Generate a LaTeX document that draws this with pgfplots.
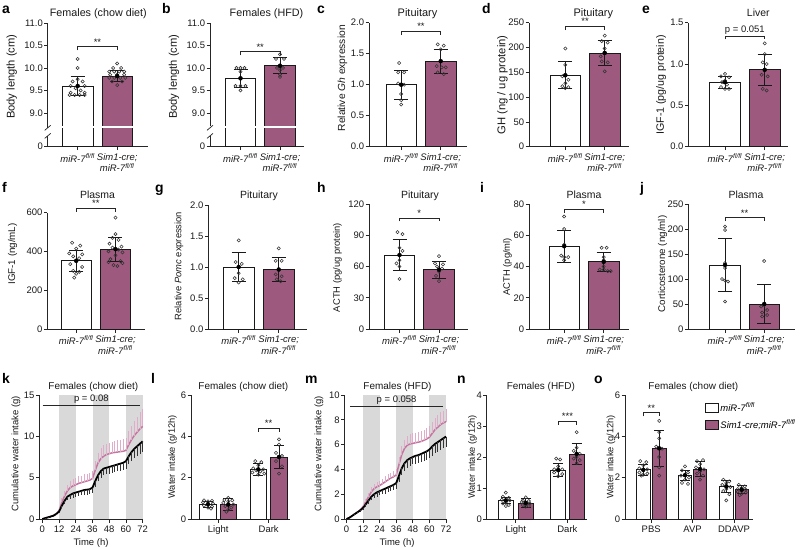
\documentclass[border=0pt]{standalone}
\usepackage{fontspec}
\setmainfont{Liberation Sans}
\usepackage{pgfplots}
\pgfplotsset{compat=1.18}

\definecolor{pbar}{RGB}{158,90,126}
\definecolor{pline}{RGB}{196,118,160}
\definecolor{perr}{RGB}{224,172,202}
\definecolor{band}{RGB}{217,217,217}

\newcommand{\tkf}{\fontsize{9.5}{11.4}\selectfont}
\newcommand{\ltf}{\fontsize{14}{16}\selectfont\bfseries}
\newcommand{\mir}{\textit{miR-7}\textsuperscript{\textit{fl/fl}}}

\def\yoff{0}
\def\bw{30.5}
\def\capw{7bp}

\pgfplotsset{
  bp/.style={scale only axis, anchor=south west, clip=false,
    axis x line*=bottom, axis y line*=left,
    axis line style={-, line width=0.7bp, black!85},
    tick align=outside, major tick length=3.5bp,
    tick style={line width=0.7bp, black!85},
    ticklabel style={font=\tkf, text=black!90},
    xticklabel style={align=center},
    yticklabel style={inner xsep=1.2bp},
    /pgf/number format/assume math mode=true,
    scaled y ticks=false, ymin=0},
  wb/.style={ybar, bar shift=0pt, bar width=\bw, fill=white, draw=black!90, line width=0.7bp, forget plot},
  pb/.style={ybar, bar shift=0pt, bar width=\bw, fill=pbar, draw=black!90, line width=0.7bp, forget plot},
  eb/.style={only marks, mark=none, forget plot,
    error bars/.cd, y dir=both, y explicit,
    error bar style={solid, draw=black!90, line width=0.8bp},
    error mark options={rotate=90, mark size=\capw, draw=black!90, line width=0.8bp}},
  pts/.style={only marks, mark=o, mark size=1.6bp, mark options={line width=0.55bp, draw=black!80}, forget plot},
}

% two bars (white, purple) with mean and SD
\newcommand{\bars}[6]{%
  \addplot[wb] table[row sep=\\, x=x, y expr=\thisrow{v}-\yoff] {x v\\ #1 #2\\};
  \addplot[pb] table[row sep=\\, x=x, y expr=\thisrow{v}-\yoff] {x v\\ #4 #5\\};
}
\newcommand{\errs}[6]{%
  \addplot[eb] table[row sep=\\, x=x, y expr=\thisrow{v}-\yoff, y error=e] {x v e\\ #1 #2 #3\\ #4 #5 #6\\};
}
\newcommand{\pts}[2]{%
  \addplot[pts] table[row sep=\\, x expr=\thisrow{d}+#1, y expr=\thisrow{v}-\yoff] {d v\\ #2};
}
\newcommand{\brk}[4]{%
  \draw[line width=0.7bp, black!85] ([yshift=-3.5bp]axis cs:#1,#3) -- (axis cs:#1,#3) -- (axis cs:#2,#3) -- ([yshift=-3.5bp]axis cs:#2,#3);
  \path (axis cs:#1,#3) -- node[above, inner sep=1.5bp, font=\tkf, text=black!90] {#4} (axis cs:#2,#3);
}
\newcommand{\lett}[3]{\node[anchor=base west, inner sep=0] at (#1bp,-#2bp) {\ltf #3};}
% title: x, baseline y, size, text
\newcommand{\ttl}[4]{\node[anchor=base, inner sep=0, text=black!90] at (#1bp,-#2bp) {\fontsize{#3}{12}\selectfont #4};}
% y label: x, y, size, text
\newcommand{\ylab}[4]{\node[rotate=90, inner sep=0, text=black!90] at (#1bp,-#2bp) {\fontsize{#3}{12}\selectfont #4};}

\begin{document}
\begin{tikzpicture}
\useasboundingbox (0,0) rectangle (800bp,-548bp);

% ---------------- a ----------------
\def\yoff{8.25}
\begin{axis}[bp, at={(47.7bp,-146.7bp)}, width=100.3bp, height=123.7bp,
  xmin=47.7, xmax=148, ymax=2.75,
  ytick={0,0.75,1.25,1.75,2.25,2.75}, yticklabels={0,9.0,9.5,10.0,10.5,11.0},
  xtick={77.7,117.2}, xticklabels={\mir,{\textit{Sim1-cre;}\\\mir}}]
\bars{77.7}{9.6}{0.22}{117.2}{9.82}{0.12}
\fill[white] (axis cs:47.7,0.41) rectangle (axis cs:148,0.45);
\fill[white] ([xshift=-2bp]axis cs:47.7,0.24) rectangle ([xshift=2bp]axis cs:47.7,0.42);
\draw[line width=0.7bp, black!85] ([xshift=-3bp,yshift=-2.5bp]axis cs:47.7,0.42) -- ([xshift=3bp,yshift=2.5bp]axis cs:47.7,0.42);
\draw[line width=0.7bp, black!85] ([xshift=-3bp,yshift=-2.5bp]axis cs:47.7,0.24) -- ([xshift=3bp,yshift=2.5bp]axis cs:47.7,0.24);
\pts{77.7}{0 10.2\\ 0 10.0\\ 0 9.75\\ -5 9.7\\ 5 9.7\\ -7 9.6\\ 7 9.6\\ -2 9.55\\ 3 9.5\\ -7 9.45\\ 7 9.45\\ -8 9.4\\ -3 9.4\\ 2 9.4\\ 7 9.4\\}
\pts{117.2}{0 10.1\\ -4 10.0\\ 4 10.0\\ -8 9.92\\ -3 9.92\\ 2 9.92\\ 7 9.92\\ -7 9.85\\ 0 9.85\\ 7 9.85\\ -8 9.78\\ -3 9.78\\ 3 9.78\\ 8 9.78\\ -5 9.7\\ 5 9.7\\ 0 9.62\\}
\errs{77.7}{9.6}{0.22}{117.2}{9.82}{0.12}
\brk{77.7}{117.2}{2.22}{**}
\end{axis}

% ---------------- b ----------------
\begin{axis}[bp, at={(210bp,-146.7bp)}, width=94bp, height=123.7bp,
  xmin=210, xmax=304, ymax=2.75,
  ytick={0,0.75,1.25,1.75,2.25,2.75}, yticklabels={0,9.0,9.5,10.0,10.5,11.0},
  xtick={240.5,280}, xticklabels={\mir,{\textit{Sim1-cre;}\\\mir}}]
\bars{240.5}{9.77}{0.2}{280}{10.05}{0.18}
\fill[white] (axis cs:210,0.41) rectangle (axis cs:304,0.45);
\fill[white] ([xshift=-2bp]axis cs:210,0.24) rectangle ([xshift=2bp]axis cs:210,0.42);
\draw[line width=0.7bp, black!85] ([xshift=-3bp,yshift=-2.5bp]axis cs:210,0.42) -- ([xshift=3bp,yshift=2.5bp]axis cs:210,0.42);
\draw[line width=0.7bp, black!85] ([xshift=-3bp,yshift=-2.5bp]axis cs:210,0.24) -- ([xshift=3bp,yshift=2.5bp]axis cs:210,0.24);
\pts{240.5}{0 10.0\\ -4 10.0\\ 4 10.0\\ 0 9.92\\ 0 9.78\\ -5 9.6\\ 0 9.6\\ 5 9.6\\ 0 9.5\\}
\pts{280}{0 10.3\\ -4 10.2\\ 4 10.2\\ -3 10.0\\ 3 10.0\\ 0 9.95\\ 0 9.85\\ 0 9.8\\}
\errs{240.5}{9.77}{0.2}{280}{10.05}{0.18}
\brk{240.5}{280}{2.11}{**}
\end{axis}
\def\yoff{0}

% ---------------- c ----------------
\begin{axis}[bp, at={(369bp,-146.7bp)}, width=97.7bp, height=124bp,
  xmin=369, xmax=466.7, ymax=2,
  ytick={0,0.5,1,1.5,2}, yticklabels={0.0,0.5,1.0,1.5,2.0},
  xtick={401.2,440.7}, xticklabels={\mir,{\textit{Sim1-cre;}\\\mir}}]
\bars{401.2}{1.0}{0.23}{440.7}{1.38}{0.19}
\pts{401.2}{-2 1.35\\ -3 1.2\\ 3 1.2\\ -3 1.02\\ 3 1.0\\ 0 0.85\\ 0 0.75\\ 0 0.68\\}
\pts{440.7}{-3 1.65\\ 3 1.63\\ 0 1.57\\ -4 1.3\\ 1 1.28\\ 5 1.28\\ -3 1.2\\ 3 1.17\\}
\errs{401.2}{1.0}{0.23}{440.7}{1.38}{0.19}
\brk{401.2}{440.7}{1.855}{**}
\end{axis}

% ---------------- d ----------------
\begin{axis}[bp, at={(529bp,-146.7bp)}, width=100bp, height=124bp,
  xmin=529, xmax=629, ymax=250, ytick={0,50,...,250},
  xtick={565.3,604.7}, xticklabels={\mir,{\textit{Sim1-cre;}\\\mir}}]
\bars{565.3}{144}{27}{604.7}{189}{24.5}
\pts{565.3}{0 198\\ 0 165\\ 0 145\\ -3 142\\ 3 135\\ 0 128\\ -3 122\\ 3 120\\ 0 118\\}
\pts{604.7}{0 224\\ -3 213\\ 3 210\\ 0 198\\ 0 190\\ -4 182\\ -3 172\\ 3 170\\ 0 152\\}
\errs{565.3}{144}{27}{604.7}{189}{24.5}
\brk{565.3}{604.7}{242}{**}
\end{axis}

% ---------------- e ----------------
\begin{axis}[bp, at={(688.3bp,-146.7bp)}, width=99.7bp, height=124bp,
  xmin=688.3, xmax=788, ymax=1.5,
  ytick={0,0.5,1,1.5}, yticklabels={0.0,0.5,1.0,1.5},
  xtick={725,764.7}, xticklabels={\mir,{\textit{Sim1-cre;}\\\mir}}]
\bars{725}{0.78}{0.07}{764.7}{0.93}{0.19}
\pts{725}{0 0.88\\ -4 0.85\\ 4 0.84\\ 0 0.8\\ -3 0.78\\ 2 0.75\\ -4 0.72\\ 0 0.7\\ 4 0.7\\}
\pts{764.7}{0 1.25\\ 0 1.12\\ -2 1.02\\ 2 1.0\\ -3 0.87\\ 3 0.85\\ -2 0.7\\ 2 0.68\\}
\errs{725}{0.78}{0.07}{764.7}{0.93}{0.19}
\brk{725}{764.7}{1.34}{p = 0.051}
\end{axis}

% ---------------- f ----------------
\begin{axis}[bp, at={(47.3bp,-329bp)}, width=98bp, height=116.3bp,
  xmin=47.3, xmax=145.3, ymax=600, ytick={0,200,400,600},
  xtick={76.2,115.5}, xticklabels={\mir,{\textit{Sim1-cre;}\\\mir}}]
\bars{76.2}{352}{53}{115.5}{412}{62}
\pts{76.2}{-4 445\\ 4 430\\ 0 415\\ -7 390\\ 6 385\\ -3 375\\ 3 365\\ 0 350\\ -6 335\\ 6 320\\ -3 300\\ 3 295\\ 0 285\\ -2 265\\}
\pts{115.5}{0 575\\ 0 490\\ -3 470\\ 3 460\\ -6 440\\ 6 425\\ -3 420\\ 3 410\\ -7 400\\ 7 395\\ 0 380\\ -5 360\\ 5 350\\ -7 345\\ 7 340\\ -2 330\\ 2 325\\}
\errs{76.2}{352}{53}{115.5}{412}{62}
\brk{76.2}{115.5}{622}{**}
\end{axis}

% ---------------- g ----------------
\begin{axis}[bp, at={(208.3bp,-329bp)}, width=98.4bp, height=124bp,
  xmin=208.3, xmax=306.7, ymax=2,
  ytick={0,0.5,1,1.5,2}, yticklabels={0.0,0.5,1.0,1.5,2.0},
  xtick={238.7,278.7}, xticklabels={\mir,{\textit{Sim1-cre;}\\\mir}}]
\bars{238.7}{1.0}{0.23}{278.7}{0.96}{0.19}
\pts{238.7}{0 1.43\\ -3 1.08\\ 3 1.05\\ 0 1.0\\ 0 0.9\\ -4 0.82\\ 4 0.8\\ 0 0.75\\}
\pts{278.7}{0 1.3\\ -3 1.1\\ 3 1.1\\ 0 0.95\\ -3 0.88\\ 3 0.85\\ -2 0.8\\ 2 0.77\\}
\errs{238.7}{1.0}{0.23}{278.7}{0.96}{0.19}
\end{axis}

% ---------------- h ----------------
\begin{axis}[bp, at={(369bp,-329bp)}, width=98.7bp, height=125bp,
  xmin=369, xmax=467.7, ymax=120, ytick={0,30,...,120},
  xtick={399.5,439}, xticklabels={\mir,{\textit{Sim1-cre;}\\\mir}}]
\bars{399.5}{71}{15}{439}{57}{8}
\pts{399.5}{-2 93\\ 3 91\\ 0 78\\ 3 75\\ 0 66\\ -3 63\\ 0 60\\ 0 48\\}
\pts{439}{0 70\\ -4 63\\ 4 62\\ -2 60\\ 3 58\\ 0 55\\ -3 51\\ 0 46\\}
\errs{399.5}{71}{15}{439}{57}{8}
\brk{399.5}{439}{106.7}{*}
\end{axis}

% ---------------- i ----------------
\begin{axis}[bp, at={(529bp,-329bp)}, width=100.3bp, height=125bp,
  xmin=529, xmax=629.3, ymax=80, ytick={0,20,...,80},
  xtick={564.2,603.7}, xticklabels={\mir,{\textit{Sim1-cre;}\\\mir}}]
\bars{564.2}{53}{10.3}{603.7}{43}{6.3}
\pts{564.2}{0 72\\ 0 64\\ 0 54\\ -3 47\\ 0 46\\ 4 46\\ 0 44\\}
\pts{603.7}{-2 52\\ 3 52\\ 0 46\\ 0 44\\ 0 40\\ -4 38\\ 0 38\\ 4 37\\ 7 37\\}
\errs{564.2}{53}{10.3}{603.7}{43}{6.3}
\brk{564.2}{603.7}{76.7}{*}
\end{axis}

% ---------------- j ----------------
\begin{axis}[bp, at={(688.3bp,-329bp)}, width=106.7bp, height=125bp,
  xmin=688.3, xmax=795, ymax=250, ytick={0,50,...,250},
  xtick={725,764.2}, xticklabels={\mir,{\textit{Sim1-cre;}\\\mir}}]
\bars{725}{128}{53.5}{764.2}{50}{39}
\pts{725}{0 205\\ 0 198\\ 0 132\\ 0 122\\ -3 100\\ 0 97\\ 3 95\\ 0 55\\}
\pts{764.2}{0 136\\ 0 48\\ -3 45\\ 3 38\\ -2 33\\ 3 28\\ -2 25\\}
\errs{725}{128}{53.5}{764.2}{50}{39}
\brk{725}{764.2}{222.6}{**}
\end{axis}

% ---------------- k ----------------
\begin{axis}[bp, at={(39.3bp,-519bp)}, width=103.4bp, height=124bp,
  xmin=-2.15, xmax=72, ymax=15, ytick={0,5,10,15}, xtick={0,12,...,72}]
\fill[band] (axis cs:12,0) rectangle (axis cs:24,15);
\fill[band] (axis cs:36,0) rectangle (axis cs:48,15);
\fill[band] (axis cs:60,0) rectangle (axis cs:72,15);
\draw[line width=0.7bp, black!85] (axis cs:0.3,13.8) -- node[above, inner sep=1.5bp, font=\tkf, text=black!90] {p = 0.08} (axis cs:70,13.8);
\addplot[color=pline, line width=1.5bp, mark=none, forget plot,
  error bars/.cd, y dir=plus, y explicit, error bar style={solid, draw=perr, line width=0.7bp}, error mark=none]
  table[row sep=\\, x=t, y=m, y error=s] {t m s\\
0 0 0\\ 2 0.1 0.03\\ 4 0.2 0.05\\ 6 0.3 0.08\\ 8 0.45 0.1\\ 10 0.65 0.15\\ 12 1.0 0.3\\ 14 2.0 0.5\\ 16 2.8 0.6\\ 18 3.4 0.7\\ 20 3.8 0.75\\ 22 4.0 0.8\\ 24 4.15 0.8\\
26 4.3 0.85\\ 28 4.4 0.85\\ 30 4.5 0.9\\ 32 4.6 0.9\\ 34 4.7 0.9\\ 36 4.9 0.95\\ 38 5.9 1.1\\ 40 6.8 1.2\\ 42 7.3 1.3\\ 44 7.6 1.3\\ 46 7.8 1.3\\ 48 7.9 1.3\\
50 8.0 1.35\\ 52 8.05 1.35\\ 54 8.1 1.4\\ 56 8.15 1.4\\ 58 8.2 1.45\\ 60 8.3 1.5\\ 62 9.0 1.6\\ 64 9.6 1.7\\ 66 10.1 1.8\\ 68 10.5 1.9\\ 70 10.9 2.0\\ 72 11.2 2.1\\};
\addplot[color=black, line width=1.8bp, mark=none, forget plot,
  error bars/.cd, y dir=minus, y explicit, error bar style={solid, draw=black!80, line width=0.7bp}, error mark=none]
  table[row sep=\\, x=t, y=m, y error=s] {t m s\\
0 0 0\\ 2 0.1 0.03\\ 4 0.2 0.05\\ 6 0.3 0.07\\ 8 0.4 0.1\\ 10 0.6 0.12\\ 12 0.9 0.2\\ 14 1.6 0.3\\ 16 2.2 0.4\\ 18 2.7 0.45\\ 20 2.9 0.5\\ 22 3.1 0.5\\ 24 3.2 0.5\\
26 3.3 0.55\\ 28 3.4 0.55\\ 30 3.5 0.55\\ 32 3.55 0.6\\ 34 3.6 0.6\\ 36 3.8 0.6\\ 38 4.6 0.7\\ 40 5.3 0.75\\ 42 5.8 0.8\\ 44 6.1 0.8\\ 46 6.2 0.8\\ 48 6.3 0.8\\
50 6.4 0.8\\ 52 6.5 0.8\\ 54 6.6 0.85\\ 56 6.7 0.85\\ 58 6.8 0.9\\ 60 7.0 0.9\\ 62 7.6 1.0\\ 64 8.1 1.05\\ 66 8.5 1.1\\ 68 8.8 1.15\\ 70 9.1 1.2\\ 72 9.4 1.25\\};
\end{axis}

% ---------------- l ----------------
\def\bw{16.7}\def\capw{5bp}
\begin{axis}[bp, at={(191bp,-519bp)}, width=99bp, height=124bp,
  xmin=191, xmax=290, ymax=6, ytick={0,2,4,6},
  xtick={218.2,268.7}, xticklabels={Light,Dark}]
\bars{208}{0.72}{0.15}{228.3}{0.70}{0.3}
\bars{258.3}{2.4}{0.3}{279}{3.0}{0.55}
\pts{208}{-4 0.9\\ 4 0.88\\ 0 0.85\\ -5 0.8\\ 5 0.75\\ 0 0.7\\ -4 0.65\\ 4 0.6\\ 0 0.55\\ 3 0.5\\}
\pts{228.3}{0 1.02\\ -4 0.92\\ 4 0.9\\ 0 0.85\\ -5 0.78\\ 5 0.7\\ -3 0.62\\ 3 0.55\\ 0 0.45\\ -2 0.35\\}
\pts{258.3}{-3 2.8\\ 3 2.75\\ 0 2.6\\ -5 2.45\\ 5 2.4\\ -2 2.35\\ 2 2.3\\ -6 2.25\\ 6 2.2\\ 0 2.15\\}
\pts{279}{0 3.85\\ 0 3.6\\ -3 3.2\\ 3 3.05\\ 0 3.0\\ -3 2.8\\ 3 2.55\\ 0 2.2\\}
\errs{208}{0.72}{0.15}{228.3}{0.70}{0.3}
\errs{258.3}{2.4}{0.3}{279}{3.0}{0.55}
\brk{258.3}{279}{4.39}{**}
\end{axis}

% ---------------- m ----------------
\begin{axis}[bp, at={(344.5bp,-519bp)}, width=101.5bp, height=124bp,
  xmin=-1.44, xmax=72, ymax=10, ytick={0,2,...,10}, xtick={0,12,...,72}]
\fill[band] (axis cs:12,0) rectangle (axis cs:24,10);
\fill[band] (axis cs:36,0) rectangle (axis cs:48,10);
\fill[band] (axis cs:60,0) rectangle (axis cs:72,10);
\draw[line width=0.7bp, black!85] (axis cs:2.5,9.1) -- node[above, inner sep=1.5bp, font=\tkf, text=black!90] {p = 0.058} (axis cs:70,9.1);
\addplot[color=pline, line width=1.5bp, mark=none, forget plot,
  error bars/.cd, y dir=plus, y explicit, error bar style={solid, draw=perr, line width=0.7bp}, error mark=none]
  table[row sep=\\, x=t, y=m, y error=s] {t m s\\
0 0 0\\ 2 0.1 0.03\\ 4 0.25 0.05\\ 6 0.4 0.08\\ 8 0.55 0.1\\ 10 0.75 0.12\\ 12 1.0 0.2\\ 14 1.4 0.25\\ 16 1.8 0.3\\ 18 2.2 0.35\\ 20 2.45 0.35\\ 22 2.6 0.4\\ 24 2.7 0.4\\
26 2.85 0.4\\ 28 3.0 0.45\\ 30 3.15 0.45\\ 32 3.3 0.45\\ 34 3.4 0.5\\ 36 3.55 0.5\\ 38 4.4 0.6\\ 40 5.2 0.65\\ 42 5.7 0.7\\ 44 5.95 0.75\\ 46 6.05 0.8\\ 48 6.1 0.8\\
50 6.15 0.8\\ 52 6.2 0.8\\ 54 6.25 0.85\\ 56 6.35 0.85\\ 58 6.45 0.85\\ 60 6.6 0.9\\ 62 6.9 0.9\\ 64 7.2 0.95\\ 66 7.4 0.95\\ 68 7.6 1.0\\ 70 7.75 1.0\\ 72 7.85 1.0\\};
\addplot[color=black, line width=1.8bp, mark=none, forget plot,
  error bars/.cd, y dir=minus, y explicit, error bar style={solid, draw=black!80, line width=0.7bp}, error mark=none]
  table[row sep=\\, x=t, y=m, y error=s] {t m s\\
0 0 0\\ 2 0.1 0.03\\ 4 0.25 0.05\\ 6 0.4 0.08\\ 8 0.55 0.1\\ 10 0.7 0.12\\ 12 0.9 0.15\\ 14 1.2 0.2\\ 16 1.5 0.25\\ 18 1.8 0.3\\ 20 2.0 0.3\\ 22 2.15 0.35\\ 24 2.25 0.35\\
26 2.35 0.35\\ 28 2.45 0.4\\ 30 2.55 0.4\\ 32 2.65 0.4\\ 34 2.75 0.45\\ 36 2.9 0.45\\ 38 3.5 0.5\\ 40 4.1 0.55\\ 42 4.5 0.6\\ 44 4.75 0.6\\ 46 4.9 0.6\\ 48 5.0 0.6\\
50 5.1 0.65\\ 52 5.15 0.65\\ 54 5.25 0.65\\ 56 5.35 0.7\\ 58 5.45 0.7\\ 60 5.6 0.7\\ 62 5.85 0.75\\ 64 6.05 0.75\\ 66 6.2 0.8\\ 68 6.35 0.8\\ 70 6.5 0.8\\ 72 6.65 0.85\\};
\end{axis}

% ---------------- n ----------------
\def\bw{15}
\begin{axis}[bp, at={(486.7bp,-519bp)}, width=100bp, height=124bp,
  xmin=486.7, xmax=586.7, ymax=4, ytick={0,1,2,3,4},
  xtick={515.8,567.4}, xticklabels={Light,Dark}]
\bars{505.8}{0.6}{0.1}{525.8}{0.52}{0.15}
\bars{558.2}{1.58}{0.22}{576.7}{2.1}{0.35}
\pts{505.8}{0 0.85\\ -3 0.72\\ 3 0.68\\ -4 0.62\\ 4 0.6\\ 0 0.55\\ -3 0.5\\ 3 0.45\\ 0 0.42\\}
\pts{525.8}{0 0.7\\ -3 0.6\\ 3 0.58\\ -4 0.55\\ 4 0.5\\ 0 0.48\\ -3 0.45\\ 3 0.42\\ 0 0.4\\}
\pts{558.2}{-2 1.95\\ 2 1.92\\ 0 1.7\\ -4 1.6\\ 4 1.6\\ 0 1.55\\ -4 1.5\\ 4 1.45\\ 0 1.38\\}
\pts{576.7}{0 2.8\\ 0 2.3\\ -3 2.2\\ 3 2.1\\ 0 2.0\\ -3 1.95\\ 3 1.9\\ 0 1.8\\}
\errs{505.8}{0.6}{0.1}{525.8}{0.52}{0.15}
\errs{558.2}{1.58}{0.22}{576.7}{2.1}{0.35}
\brk{558.2}{576.7}{3.14}{***}
\end{axis}

% ---------------- o ----------------
\def\bw{13.5}
\begin{axis}[bp, at={(625bp,-519bp)}, width=128.3bp, height=124bp,
  xmin=625, xmax=753.3, ymax=6, ytick={0,2,4,6},
  xtick={651.2,692.5,734}, xticklabels={PBS,AVP,DDAVP},
  legend style={at={(0.62,0.955)}, anchor=north west, draw=none, fill=none, font=\tkf, row sep=3bp, inner sep=0pt},
  legend cell align=left,
  legend image code/.code={\draw[#1] (0bp,-4.5bp) rectangle (13bp,4.5bp);}]
\addlegendimage{fill=white, draw=black!90, line width=0.7bp}
\addlegendentry{\mir}
\addlegendimage{fill=pbar, draw=black!90, line width=0.7bp}
\addlegendentry{\textit{Sim1-cre;miR-7}\textsuperscript{\textit{fl/fl}}}
\bars{643.3}{2.38}{0.25}{659.2}{3.42}{0.86}
\bars{685}{2.12}{0.25}{700}{2.42}{0.38}
\bars{726.3}{1.58}{0.3}{741.7}{1.42}{0.2}
\pts{643.3}{-3 2.8\\ 3 2.75\\ 0 2.6\\ -4 2.45\\ 4 2.4\\ 0 2.35\\ -4 2.25\\ 4 2.2\\ 0 2.15\\ -2 2.1\\}
\pts{659.2}{0 4.75\\ 0 4.2\\ 0 3.9\\ -3 3.5\\ 3 3.4\\ 0 3.0\\ 0 2.5\\ 0 2.1\\}
\pts{685}{0 2.55\\ -3 2.35\\ 3 2.25\\ 0 2.15\\ -4 2.1\\ 4 2.0\\ 0 1.9\\ -3 1.75\\ 3 1.7\\}
\pts{700}{3 2.85\\ -3 2.8\\ 0 2.65\\ -4 2.5\\ 4 2.4\\ 0 2.3\\ -3 2.2\\ 3 2.1\\ 0 1.9\\}
\pts{726.3}{-3 1.9\\ 3 1.82\\ 0 1.75\\ -4 1.65\\ 4 1.55\\ 0 1.45\\ -3 1.35\\ 3 1.2\\ 0 0.9\\}
\pts{741.7}{-3 1.65\\ 3 1.58\\ 0 1.5\\ -4 1.45\\ 4 1.42\\ 0 1.38\\ -4 1.32\\ 4 1.28\\ 0 1.22\\ -2 1.15\\}
\errs{643.3}{2.38}{0.25}{659.2}{3.42}{0.86}
\errs{685}{2.12}{0.25}{700}{2.42}{0.38}
\errs{726.3}{1.58}{0.3}{741.7}{1.42}{0.2}
\brk{643.3}{659.2}{5.14}{**}
\end{axis}

% ---------------- letters, titles, axis labels ----------------
\lett{2}{13.3}{a}\lett{162}{13.3}{b}\lett{317}{13.3}{c}\lett{482}{13.3}{d}\lett{642}{13.3}{e}
\lett{2}{192}{f}\lett{155}{192}{g}\lett{317}{192}{h}\lett{480}{192}{i}\lett{640}{192}{j}
\lett{2}{383}{k}\lett{151}{383}{l}\lett{305}{383}{m}\lett{457}{383}{n}\lett{594}{383}{o}

\ttl{98.3}{16.5}{10.8}{Females (chow diet)}
\ttl{266.5}{16.5}{10.8}{Females (HFD)}
\ttl{417.5}{16.5}{11}{Pituitary}
\ttl{593.3}{16.5}{11}{Pituitary}
\ttl{758.3}{16.5}{10.5}{Liver}
\ttl{97.5}{198}{10.5}{Plasma}
\ttl{259}{198}{10.5}{Pituitary}
\ttl{420}{198}{10.5}{Pituitary}
\ttl{584}{198}{10.5}{Plasma}
\ttl{746}{198}{10.5}{Plasma}
\ttl{93.3}{389}{10}{Females (chow diet)}
\ttl{243.3}{389}{10}{Females (chow diet)}
\ttl{397.5}{389}{10}{Females (HFD)}
\ttl{540.8}{389}{10}{Females (HFD)}
\ttl{693.3}{389}{10}{Females (chow diet)}

\ylab{11.7}{76.7}{11.2}{Body length (cm)}
\ylab{174}{76.7}{11.2}{Body length (cm)}
\ylab{342.5}{78.3}{10.3}{Relative \textit{Gh} expression}
\ylab{502.5}{85}{11.3}{GH (ng / ug protein)}
\ylab{661}{85}{10.7}{IGF-1 (pg/ug protein)}
\ylab{12.5}{254}{9.8}{IGF-1 (ng/mL)}
\ylab{179}{266}{9.4}{Relative \textit{Pomc} expression}
\ylab{337.5}{267.5}{9.4}{ACTH (pg/ug protein)}
\ylab{507.5}{266.7}{9.4}{ACTH (pg/ml)}
\ylab{662.5}{264}{9.8}{Corticosterone (ng/ml)}
\ylab{16}{454}{9.5}{Cumulative water intake (g)}
\ylab{172.5}{456.7}{9.3}{Water intake (g/12h)}
\ylab{319}{454}{9.5}{Cumulative water intake (g)}
\ylab{472.5}{457}{9.3}{Water intake (g/12h)}
\ylab{611}{457}{9.3}{Water intake (g/12h)}

\node[anchor=base, inner sep=0, text=black!90] at (91bp,-545bp) {\tkf Time (h)};
\node[anchor=base, inner sep=0, text=black!90] at (397bp,-545bp) {\tkf Time (h)};
\end{tikzpicture}
\end{document}
